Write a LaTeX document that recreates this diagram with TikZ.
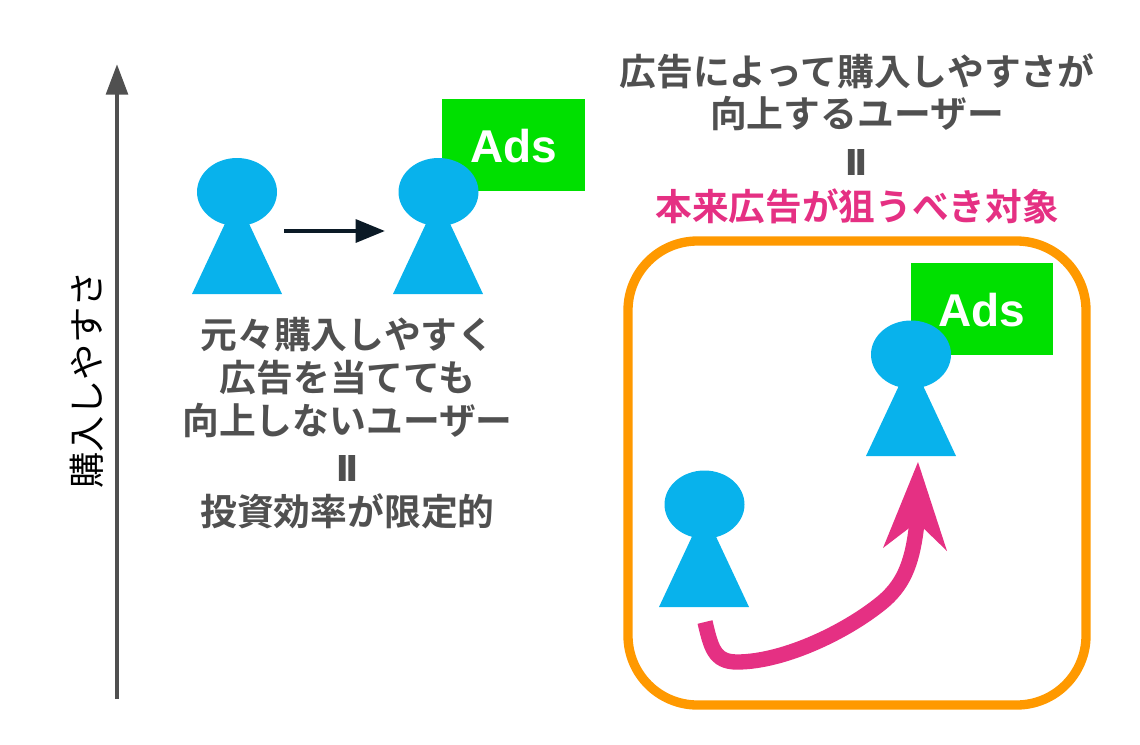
\documentclass[tikz,border=0pt]{standalone}
\usepackage{fontspec}
\setmainfont{Liberation Sans}
\newfontfamily\jp[BoldFont={Noto Sans CJK JP Bold}]{Noto Sans CJK JP}
\newfontfamily\eqfont[FakeBold=5]{Liberation Sans Bold}
\usetikzlibrary{shapes.geometric,arrows.meta}
\definecolor{skyb}{HTML}{08B2EC}
\definecolor{adg}{HTML}{00E000}
\definecolor{txtg}{HTML}{505050}
\definecolor{pinkc}{HTML}{E53083}
\definecolor{orangec}{HTML}{FF9900}
\definecolor{navy}{HTML}{0B1A26}
\tikzset{
  head/.style={ellipse,fill=skyb,inner sep=0pt,minimum width=60pt,minimum height=51pt},
  body/.style={fill=skyb},
  adbox/.style={fill=adg,inner sep=0pt,minimum width=107pt,minimum height=69pt},
  adtext/.style={text=white,font=\bfseries\fontsize{34.5}{34.5}\selectfont},
  label/.style={text=txtg,font=\jp\bfseries\fontsize{27.6}{27.6}\selectfont,inner sep=0pt},
  eqmark/.style={text=txtg,font=\eqfont\fontsize{26}{26}\selectfont,inner sep=0pt},
  pinklabel/.style={text=pinkc,font=\jp\bfseries\fontsize{27.5}{27.5}\selectfont,inner sep=0pt},
}
\begin{document}
\begin{tikzpicture}[x=0.75pt,y=-0.75pt]
\useasboundingbox (0,0) rectangle (1140,744);
% axis
\coordinate (axb) at (117,699);
\coordinate (axt) at (117,64);
\draw[txtg,line width=3.6pt,-{Triangle[length=23pt,width=16pt]}] (axb) -- (axt);
\node[rotate=90,inner sep=0pt,text=black,font=\jp\fontsize{27.2}{27.2}\selectfont] (axl) at (87,380) {購入しやすさ};
% left group
\node[adbox] (ad1) at (513.5,145) {};
\node[adtext] (adt1) at (514,146) {Ads};
\fill[body] (237,198) -- (282,294) -- (192,294) -- cycle;
\node[head] (p1) at (237,192) {};
\fill[body] (438,198) -- (483,294) -- (393,294) -- cycle;
\node[head] (p2) at (438.5,192) {};
\coordinate (a1s) at (284,231);
\coordinate (a1e) at (385,231);
\draw[navy,line width=3.2pt,-{Triangle[length=22pt,width=17pt]}] (a1s) -- (a1e);
\node[label] (l1) at (347.5,334.5) {元々購入しやすく};
\node[label] (l2) at (347.5,377.5) {広告を当てても};
\node[label] (l3) at (347.5,420.5) {向上しないユーザー};
\node[eqmark] (l4) at (347,468) {II};
\node[label] (l5) at (347.5,511.5) {投資効率が限定的};
% right texts
\node[label] (r1) at (857,71) {広告によって購入しやすさが};
\node[label] (r2) at (857,114) {向上するユーザー};
\node[eqmark] (r3) at (856,162) {II};
\node[pinklabel] (r4) at (857,206) {本来広告が狙うべき対象};
% orange frame
\draw[orangec,line width=7pt,rounded corners=52pt] (628,241) rectangle (1086,705);
% right group
\node[adbox] (ad2) at (982,309) {};
\node[adtext] (adt2) at (982,310) {Ads};
\fill[body] (911,360) -- (956,456) -- (866,456) -- cycle;
\node[head] (p3) at (911,354.5) {};
\fill[body] (704,511) -- (749,607) -- (659,607) -- cycle;
\node[head] (p4) at (704.5,504.5) {};
% pink arrow
\coordinate (ps) at (705,622);
\coordinate (pe) at (917,522);
\draw[pinkc,line width=11.5pt] (ps) .. controls (711,647) and (714,662) .. (737,662)
   .. controls (785,662) and (850,630) .. (885,600)
   .. controls (905,582) and (913,560) .. (pe);
\fill[pinkc] (918,462) -- (947,551) -- (917,522) -- (883,548) -- cycle;
\end{tikzpicture}
\end{document}
